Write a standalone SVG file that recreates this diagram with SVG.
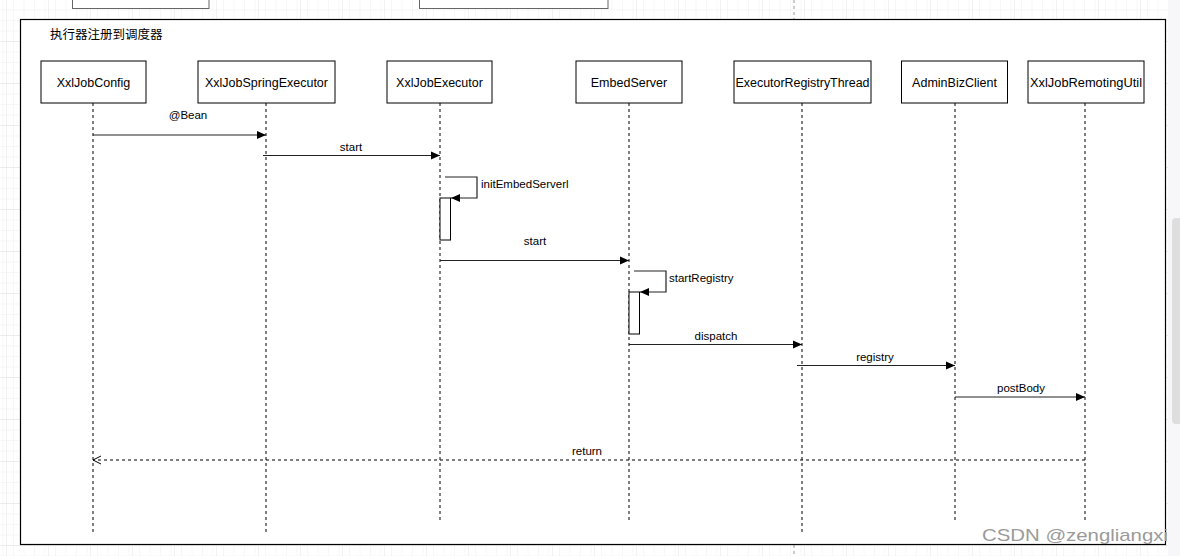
<svg xmlns="http://www.w3.org/2000/svg" width="1180" height="556" viewBox="0 0 1180 556">
<defs>
<pattern id="minor" width="10.5" height="10.5" patternUnits="userSpaceOnUse" x="7" y="0">
<path d="M10.5 0 V10.5 M0 10.5 H10.5" fill="none" stroke="#f0f0f0" stroke-width="1"/>
</pattern>
<pattern id="major" width="42" height="42" patternUnits="userSpaceOnUse" x="7" y="0">
<rect width="42" height="42" fill="url(#minor)"/>
<path d="M42 0 V42 M0 42 H42" fill="none" stroke="#e2e2e2" stroke-width="1"/>
</pattern>
<marker id="arr" markerUnits="userSpaceOnUse" markerWidth="11" markerHeight="10" refX="9" refY="4.5" orient="auto">
<path d="M0,0.5 L9,4.5 L0,8.5 Z" fill="#000"/>
</marker>
<marker id="open" markerUnits="userSpaceOnUse" markerWidth="10" markerHeight="10" refX="8" refY="4.5" orient="auto">
<path d="M0,0.5 L8,4.5 L0,8.5" fill="none" stroke="#000" stroke-width="1"/>
</marker>
</defs>
<style>
.box{fill:#fff;stroke:#000;stroke-width:1}
.lbl{font-family:"Liberation Sans",Arial,sans-serif;font-size:12.5px;fill:#000;text-anchor:middle}
.msg{font-family:"Liberation Sans",Arial,sans-serif;font-size:11.5px;fill:#000;text-anchor:middle}
.life{stroke:#000;stroke-width:1;stroke-dasharray:3 3;fill:none}
.call{stroke:#222;stroke-width:1.2;fill:none;marker-end:url(#arr)}
.act{fill:#fff;stroke:#000;stroke-width:1}
</style>
<rect width="1180" height="556" fill="#fff"/>
<rect width="1180" height="556" fill="url(#major)"/>
<line x1="794" y1="0" x2="794" y2="19" stroke="#999" stroke-dasharray="3 3"/>
<line x1="794" y1="545" x2="794" y2="556" stroke="#999" stroke-dasharray="3 3"/>
<rect x="72.5" y="-10" width="136.5" height="18.5" fill="#fff" stroke="#666" stroke-width="1"/>
<rect x="419.5" y="-10" width="188.5" height="18.5" fill="#fff" stroke="#666" stroke-width="1"/>
<rect x="20.5" y="19.5" width="1145" height="525" fill="#fff" stroke="#000" stroke-width="1.2"/>
<rect x="1168" y="0" width="12" height="556" fill="#f7f7f9"/>
<rect x="1172" y="218" width="10" height="206" rx="4" fill="#dedede"/>
<text x="50" y="39" font-family="'Noto Sans CJK SC',sans-serif" font-size="12.5" fill="#000">执行器注册到调度器</text>

<g id="n-XxlJobConfig">
<rect class="box" x="41" y="61" width="105" height="42"/>
<text class="lbl" x="93.5" y="86.5">XxlJobConfig</text>
<line class="life" x1="93" y1="103" x2="93" y2="533"/>
</g>
<g id="n-XxlJobSpringExecutor">
<rect class="box" x="198" y="61" width="137" height="42"/>
<text class="lbl" x="266.5" y="86.5">XxlJobSpringExecutor</text>
<line class="life" x1="266" y1="103" x2="266" y2="533"/>
</g>
<g id="n-XxlJobExecutor">
<rect class="box" x="387" y="61" width="105" height="42"/>
<text class="lbl" x="439.5" y="86.5">XxlJobExecutor</text>
<line class="life" x1="440" y1="103" x2="440" y2="522"/>
<rect class="act" x="440" y="198" width="10.5" height="42"/>
</g>
<g id="n-EmbedServer">
<rect class="box" x="576" y="61" width="106" height="42"/>
<text class="lbl" x="629" y="86.5">EmbedServer</text>
<line class="life" x1="629" y1="103" x2="629" y2="522"/>
<rect class="act" x="629" y="292" width="10.5" height="42"/>
</g>
<g id="n-ExecutorRegistryThread">
<rect class="box" x="734" y="61" width="137" height="42"/>
<text class="lbl" x="802.5" y="86.5" textLength="134" lengthAdjust="spacingAndGlyphs">ExecutorRegistryThread</text>
<line class="life" x1="802" y1="103" x2="802" y2="533"/>
</g>
<g id="n-AdminBizClient">
<rect class="box" x="901.5" y="61" width="106" height="42"/>
<text class="lbl" x="954.5" y="86.5">AdminBizClient</text>
<line class="life" x1="955" y1="103" x2="955" y2="522"/>
</g>
<g id="n-XxlJobRemotingUtil">
<rect class="box" x="1028" y="61" width="116" height="42"/>
<text class="lbl" x="1086" y="86.5" textLength="112" lengthAdjust="spacingAndGlyphs">XxlJobRemotingUtil</text>
<line class="life" x1="1085" y1="103" x2="1085" y2="522"/>
</g>

<g id="connectors">
<line class="call" x1="93" y1="135" x2="266" y2="135"/>
<text class="msg" x="188" y="119">@Bean</text>
<line class="call" x1="263" y1="155.5" x2="440" y2="155.5"/>
<text class="msg" x="351" y="151">start</text>
<polyline class="call" points="445,177 477,177 477,198 451,198"/>
<text class="msg" x="481" y="188" style="text-anchor:start">initEmbedServerl</text>
<line class="call" x1="440" y1="260.5" x2="629" y2="260.5"/>
<text class="msg" x="535" y="245">start</text>
<polyline class="call" points="634,271 666,271 666,292 640,292"/>
<text class="msg" x="669" y="282" style="text-anchor:start">startRegistry</text>
<line class="call" x1="629" y1="344.5" x2="802" y2="344.5"/>
<text class="msg" x="716" y="340">dispatch</text>
<line class="call" x1="797" y1="365.5" x2="955" y2="365.5"/>
<text class="msg" x="875" y="361">registry</text>
<line class="call" x1="955" y1="397" x2="1085" y2="397"/>
<text class="msg" x="1021" y="392">postBody</text>
<line x1="1085" y1="460" x2="93" y2="460" stroke="#000" stroke-width="1" stroke-dasharray="3 3" marker-end="url(#open)"/>
<text class="msg" x="587" y="455">return</text>
</g>
<text x="982" y="541" font-family="'Liberation Sans',Arial,sans-serif" font-size="17" fill="#9a9a9a" textLength="186" lengthAdjust="spacingAndGlyphs">CSDN @zengliangxi</text>
</svg>
